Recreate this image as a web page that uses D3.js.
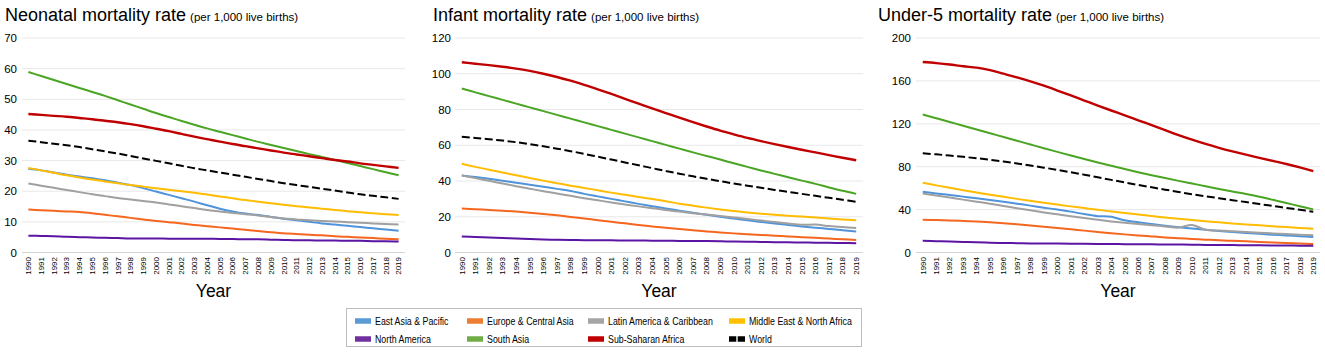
<!DOCTYPE html>
<html>
<head>
<meta charset="utf-8">
<script src="https://cdn.jsdelivr.net/npm/d3@7"></script>
<style>
	body { margin: 0; background: #fff; }
	text { font-family: "Liberation Sans", Arial, sans-serif; fill: #000; }
</style>
</head>
<body>
<div id="chart"></div>
<script>
// Chart data, one series per region
var years = d3.range(1990, 2020);
var regions = ['East Asia & Pacific', 'Europe & Central Asia', 'Latin America & Caribbean',
	'Middle East & North Africa', 'North America', 'South Asia', 'Sub-Saharan Africa', 'World'];
var colors = ['#4f94db', '#f5661f', '#a0a0a0', '#ffbc00', '#5c14a3', '#4ba524', '#c00000', '#000000'];
var swatchColors = ['#5b9bd5', '#ed7d31', '#a5a5a5', '#ffc000', '#7030a0', '#70ad47', '#c00000', '#000000'];

var neonatal = [
	[27.3, 26.8, 26.1, 25.4, 24.8, 24.2, 23.6, 22.8, 22.0, 21.0, 19.9, 18.8, 17.7, 16.6, 15.4, 14.3, 13.4, 12.7, 12.2, 11.6, 11.0, 10.5, 10.0, 9.5, 9.1, 8.7, 8.3, 7.9, 7.5, 7.1],
	[14.0, 13.8, 13.6, 13.4, 13.2, 12.8, 12.3, 11.8, 11.3, 10.8, 10.3, 9.9, 9.5, 9.0, 8.6, 8.2, 7.8, 7.4, 7.0, 6.6, 6.3, 6.0, 5.8, 5.6, 5.3, 5.1, 4.9, 4.7, 4.5, 4.3],
	[22.5, 21.8, 21.1, 20.4, 19.7, 19.0, 18.4, 17.8, 17.3, 16.8, 16.3, 15.7, 15.1, 14.5, 13.9, 13.4, 12.9, 12.5, 12.1, 11.6, 11.1, 10.8, 10.5, 10.3, 10.1, 9.9, 9.7, 9.5, 9.3, 9.1],
	[27.6, 26.8, 26.0, 25.2, 24.5, 23.8, 23.2, 22.6, 22.0, 21.5, 21.0, 20.5, 20.0, 19.5, 18.9, 18.3, 17.7, 17.1, 16.6, 16.1, 15.6, 15.1, 14.7, 14.3, 13.9, 13.5, 13.1, 12.8, 12.5, 12.2],
	[5.5, 5.4, 5.3, 5.1, 5.0, 4.9, 4.8, 4.7, 4.6, 4.6, 4.6, 4.5, 4.5, 4.5, 4.5, 4.4, 4.4, 4.3, 4.3, 4.2, 4.1, 4.0, 4.0, 3.9, 3.9, 3.8, 3.8, 3.7, 3.7, 3.6],
	[58.9, 57.6, 56.3, 55.0, 53.7, 52.4, 51.1, 49.7, 48.3, 46.9, 45.5, 44.2, 42.9, 41.7, 40.5, 39.4, 38.3, 37.2, 36.1, 35.1, 34.1, 33.1, 32.1, 31.2, 30.2, 29.2, 28.2, 27.2, 26.2, 25.2],
	[45.2, 44.9, 44.6, 44.3, 43.9, 43.5, 43.0, 42.5, 41.9, 41.2, 40.4, 39.6, 38.7, 37.8, 37.0, 36.2, 35.4, 34.7, 34.0, 33.3, 32.6, 32.0, 31.4, 30.8, 30.2, 29.7, 29.1, 28.6, 28.1, 27.6],
	[36.5, 36.0, 35.5, 35.0, 34.4, 33.7, 33.0, 32.3, 31.5, 30.7, 29.9, 29.1, 28.3, 27.5, 26.8, 26.1, 25.4, 24.7, 24.0, 23.3, 22.6, 22.0, 21.4, 20.8, 20.2, 19.6, 19.0, 18.5, 18.0, 17.5]
];

var infant = [
	[43.1, 42.2, 41.2, 40.1, 39.0, 37.9, 36.8, 35.6, 34.4, 32.8, 31.4, 30.0, 28.6, 27.2, 25.9, 24.6, 23.4, 22.2, 21.1, 20.0, 19.0, 18.0, 17.1, 16.2, 15.4, 14.6, 13.9, 13.2, 12.5, 11.8],
	[24.6, 24.2, 23.8, 23.4, 22.9, 22.3, 21.6, 20.8, 19.9, 19.0, 18.1, 17.2, 16.3, 15.4, 14.6, 13.8, 13.1, 12.4, 11.8, 11.2, 10.7, 10.2, 9.8, 9.4, 9.0, 8.6, 8.2, 7.8, 7.4, 7.0],
	[43.1, 41.6, 40.1, 38.6, 37.1, 35.7, 34.3, 33.0, 31.7, 30.4, 29.2, 28.0, 26.9, 25.8, 24.8, 23.8, 22.9, 22.0, 21.2, 20.4, 19.6, 18.8, 17.9, 17.0, 16.2, 15.5, 15.6, 14.8, 14.2, 13.7],
	[49.6, 47.9, 46.3, 44.7, 43.2, 41.7, 40.2, 38.8, 37.4, 36.1, 34.8, 33.5, 32.3, 31.1, 29.9, 28.7, 27.3, 26.2, 25.1, 24.1, 23.2, 22.4, 21.7, 21.1, 20.6, 20.1, 19.6, 19.0, 18.5, 18.0],
	[8.9, 8.7, 8.4, 8.1, 7.8, 7.5, 7.3, 7.1, 7.0, 6.9, 6.8, 6.8, 6.7, 6.7, 6.6, 6.6, 6.5, 6.5, 6.4, 6.3, 6.1, 6.0, 5.9, 5.8, 5.7, 5.6, 5.5, 5.4, 5.3, 5.2],
	[91.7, 89.6, 87.5, 85.4, 83.3, 81.2, 79.1, 77.0, 74.9, 72.8, 70.7, 68.6, 66.5, 64.4, 62.3, 60.2, 58.1, 56.0, 54.0, 52.0, 49.9, 47.9, 45.9, 44.0, 42.1, 40.2, 38.4, 36.4, 34.5, 32.8],
	[106.4, 105.6, 104.8, 103.9, 102.9, 101.6, 100.0, 98.2, 96.1, 93.8, 91.3, 88.7, 86.0, 83.3, 80.6, 78.0, 75.4, 72.9, 70.5, 68.2, 66.1, 64.1, 62.3, 60.6, 59.0, 57.5, 56.0, 54.5, 53.0, 51.6],
	[64.7, 64.1, 63.4, 62.6, 61.7, 60.6, 59.4, 58.1, 56.7, 55.2, 53.6, 52.0, 50.4, 48.8, 47.2, 45.6, 44.1, 42.6, 41.2, 39.9, 38.6, 37.4, 36.2, 35.0, 33.9, 32.8, 31.7, 30.6, 29.5, 28.4]
];

var underFive = [
	[56.6, 55.1, 53.6, 52.1, 50.6, 49.0, 47.3, 45.5, 43.7, 41.8, 40.0, 38.1, 35.8, 33.9, 33.3, 30.0, 28.2, 26.6, 25.0, 23.6, 22.3, 21.1, 20.0, 19.0, 18.2, 17.4, 16.6, 15.9, 15.2, 14.5],
	[30.6, 30.2, 29.8, 29.4, 28.9, 28.2, 27.3, 26.3, 25.2, 24.0, 22.8, 21.6, 20.4, 19.2, 18.0, 16.9, 15.9, 15.0, 14.1, 13.3, 12.6, 12.0, 11.4, 10.9, 10.4, 9.9, 9.4, 8.9, 8.4, 7.9],
	[55.0, 53.1, 51.2, 49.3, 47.4, 45.5, 43.4, 41.3, 39.3, 37.4, 35.6, 33.8, 32.1, 30.5, 29.0, 27.7, 26.5, 25.4, 24.3, 23.2, 25.6, 21.2, 20.4, 19.7, 19.0, 18.4, 17.8, 17.2, 16.6, 16.1],
	[65.0, 62.6, 60.3, 58.1, 56.0, 53.9, 51.9, 50.0, 48.2, 46.4, 44.7, 43.0, 41.4, 39.8, 38.3, 36.8, 35.4, 34.0, 32.7, 31.4, 30.2, 29.1, 28.1, 27.1, 26.2, 25.3, 24.5, 23.7, 22.9, 22.1],
	[10.9, 10.6, 10.3, 9.9, 9.5, 9.2, 8.9, 8.7, 8.5, 8.4, 8.3, 8.2, 8.1, 8.0, 7.9, 7.8, 7.7, 7.6, 7.5, 7.4, 7.3, 7.1, 7.0, 6.9, 6.8, 6.7, 6.6, 6.5, 6.4, 6.3],
	[128.7, 125.2, 121.7, 118.2, 114.7, 111.2, 107.7, 104.2, 100.7, 97.2, 93.8, 90.4, 87.1, 83.9, 80.8, 77.8, 74.9, 72.1, 69.4, 66.8, 64.3, 61.8, 59.3, 56.9, 54.6, 52.0, 49.1, 46.2, 43.1, 40.2],
	[177.6, 176.6, 175.3, 173.6, 172.4, 170.0, 166.7, 163.3, 159.6, 155.5, 151.0, 146.4, 141.7, 137.0, 132.4, 127.9, 123.3, 118.7, 114.1, 109.5, 105.2, 101.2, 97.6, 94.3, 91.2, 88.3, 85.4, 82.5, 79.3, 75.9],
	[92.5, 91.5, 90.4, 89.2, 87.9, 86.4, 84.8, 83.0, 81.1, 79.1, 77.0, 74.8, 72.5, 70.1, 67.7, 65.3, 63.0, 60.8, 58.6, 56.5, 54.3, 52.4, 50.6, 48.8, 47.0, 45.2, 43.4, 41.6, 39.8, 38.0]
];

// Panel titles and y ticks
var titles = ['Neonatal mortality rate', 'Infant mortality rate', 'Under-5 mortality rate'];
var subtitle = '(per 1,000 live births)';
var yTicks = [d3.range(0, 71, 10), d3.range(0, 121, 20), d3.range(0, 201, 40)];

// Layout
var width = 1325;
var height = 358;
var plotTop = 38;
var plotBottom = 252.5;
var panels = [
	{data: neonatal, titleX: 5, labelX: 17, left: 22, right: 405},
	{data: infant, titleX: 433, labelX: 451, left: 455, right: 863},
	{data: underFive, titleX: 878, labelX: 911, left: 916, right: 1320}
];

var svg = d3.select('#chart').append('svg')
		.attr('width', width)
		.attr('height', height);

/**
 * Draws one of the three line panels.
 *
 * @param p {Object} panel layout
 * @param i {Number} panel index
 */
function drawPanel(p, i) {
	var g = svg.append('g');
	var ticks = yTicks[i];

	var xScale = d3.scaleBand()
			.domain(years)
			.range([p.left, p.right]);

	var yScale = d3.scaleLinear()
			.domain([0, d3.max(ticks)])
			.range([plotBottom, plotTop]);

	// title
	var title = g.append('text')
			.attr('x', p.titleX)
			.attr('y', 21);
	title.append('tspan')
			.style('font-size', '18px')
			.text(titles[i]);
	title.append('tspan')
			.attr('dx', 4)
			.style('font-size', '11.5px')
			.text(subtitle);

	// gridlines and y labels
	g.selectAll('line.grid').data(ticks).enter().append('line')
			.attr('class', 'grid')
			.attr('x1', p.left)
			.attr('x2', p.right)
			.attr('y1', d => yScale(d))
			.attr('y2', d => yScale(d))
			.attr('stroke', d => d === 0 ? '#d4d4d4' : '#e8e8e8')
			.attr('stroke-width', 1);

	g.selectAll('text.ytick').data(ticks).enter().append('text')
			.attr('class', 'ytick')
			.attr('x', p.labelX)
			.attr('y', d => yScale(d))
			.attr('dy', '0.36em')
			.attr('text-anchor', 'end')
			.style('font-size', '11.5px')
			.text(d => d);

	// rotated year labels
	g.selectAll('text.xtick').data(years).enter().append('text')
			.attr('class', 'xtick')
			.attr('transform', d => 'translate(' + (xScale(d) + xScale.bandwidth() / 2 + 2.8) + ',257) rotate(-90)')
			.attr('text-anchor', 'end')
			.style('font-size', '8px')
			.text(d => d);

	g.append('text')
			.attr('x', (p.left + p.right) / 2)
			.attr('y', 297)
			.attr('text-anchor', 'middle')
			.style('font-size', '17.5px')
			.text('Year');

	var line = d3.line()
			.x((d, j) => xScale(years[j]) + xScale.bandwidth() / 2)
			.y(d => yScale(d))
			.curve(d3.curveCatmullRom.alpha(0.5));

	g.selectAll('path.series').data(p.data).enter().append('path')
			.attr('class', 'series')
			.attr('d', line)
			.attr('fill', 'none')
			.attr('stroke', (d, k) => colors[k])
			.attr('stroke-width', (d, k) => k === 6 ? 2.4 : 2)
			.attr('stroke-dasharray', (d, k) => k === 7 ? '8,3.5' : null);
}

panels.forEach(drawPanel);

// Legend
var legend = svg.append('g');
legend.append('rect')
		.attr('x', 346.5)
		.attr('y', 308.5)
		.attr('width', 515)
		.attr('height', 38)
		.attr('fill', '#fff')
		.attr('stroke', '#bdbdbd');

var colX = [355, 467, 588, 729];
var rowY = [321, 339];

var item = legend.selectAll('g.item').data(regions).enter().append('g')
		.attr('class', 'item')
		.attr('transform', (d, k) => 'translate(' + colX[k % 4] + ',' + rowY[Math.floor(k / 4)] + ')');

item.append('line')
		.attr('x1', 0)
		.attr('x2', 16)
		.attr('stroke', (d, k) => swatchColors[k])
		.attr('stroke-width', 5.5)
		.attr('stroke-dasharray', (d, k) => k === 7 ? '7.3,1.4' : null);

// narrow-looking legend labels: squeeze horizontally
item.append('text')
		.attr('transform', 'translate(20,0) scale(0.84,1)')
		.attr('dy', '0.35em')
		.style('font-size', '10.5px')
		.text(d => d);
</script>
</body>
</html>
